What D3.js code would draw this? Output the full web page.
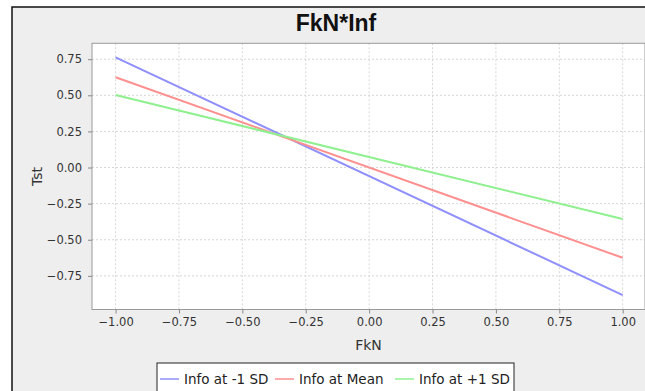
<!DOCTYPE html>
<html>
<head>
<meta charset="utf-8">
<script src="https://cdn.jsdelivr.net/npm/d3@7"></script>
<style>
  body { margin: 0; background: #fff; }
  svg { display: block; }
</style>
</head>
<body>
<div id="chart"></div>
<script>
// values
var fkn = [-1, 1];
var seriesNames = ["Info at -1 SD", "Info at Mean", "Info at +1 SD"];
var lowSD = [0.763, -0.883];
var mean = [0.625, -0.625];
var highSD = [0.502, -0.357];
var xTicks = [-1, -0.75, -0.5, -0.25, 0, 0.25, 0.5, 0.75, 1];
var yTicks = [-0.75, -0.5, -0.25, 0, 0.25, 0.5, 0.75];

var width = 645, height = 391;
var colors = ["#8f8fff", "#ff8f8f", "#8ff08f"];

var svg = d3.select("#chart").append("svg")
    .attr("width", width)
    .attr("height", height);

// outer chart panel (cropped on the right and bottom)
svg.append("rect")
    .attr("x", 12).attr("y", 7)
    .attr("width", 700).attr("height", 420)
    .attr("fill", "#eeeeee")
    .attr("stroke", "#111")
    .attr("stroke-width", 1.5);

svg.append("text")
    .attr("x", 336).attr("y", 31)
    .attr("text-anchor", "middle")
    .style("font-family", "'Liberation Sans', Arial, sans-serif")
    .style("font-weight", "bold")
    .style("font-size", "23px")
    .attr("fill", "#111")
    .text("FkN*Inf");

var plot = {left: 92, right: 645, top: 43.3, bottom: 309.5};

var x = d3.scaleLinear().domain([-1.093, 1.088]).range([plot.left, plot.right]);
var y = d3.scaleLinear().domain([-0.983, 0.86]).range([plot.bottom, plot.top]);

svg.append("rect")
    .attr("x", plot.left).attr("y", plot.top)
    .attr("width", plot.right - plot.left)
    .attr("height", plot.bottom - plot.top)
    .attr("fill", "#fff");

// grid
svg.append("g").selectAll("line")
    .data(xTicks).enter().append("line")
    .attr("x1", function (d) { return x(d); })
    .attr("x2", function (d) { return x(d); })
    .attr("y1", plot.top).attr("y2", plot.bottom)
    .attr("stroke", "#d6d6d6")
    .attr("stroke-dasharray", "2,2");

svg.append("g").selectAll("line")
    .data(yTicks).enter().append("line")
    .attr("y1", function (d) { return y(d); })
    .attr("y2", function (d) { return y(d); })
    .attr("x1", plot.left).attr("x2", plot.right)
    .attr("stroke", "#d6d6d6")
    .attr("stroke-dasharray", "2,2");

svg.append("rect")
    .attr("x", plot.left).attr("y", plot.top)
    .attr("width", plot.right - plot.left)
    .attr("height", plot.bottom - plot.top)
    .attr("fill", "none")
    .attr("stroke", "#9a9a9a");

// axes
var xAxis = svg.append("g")
    .attr("transform", "translate(0," + plot.bottom + ")")
    .call(d3.axisBottom(x).tickValues(xTicks).tickFormat(d3.format(".2f"))
        .tickSizeInner(4).tickSizeOuter(0).tickPadding(4));

var yAxis = svg.append("g")
    .attr("transform", "translate(" + plot.left + ",0)")
    .call(d3.axisLeft(y).tickValues(yTicks).tickFormat(d3.format(".2f"))
        .tickSizeInner(4).tickSizeOuter(0).tickPadding(6));

[xAxis, yAxis].forEach(function (g) {
    g.select(".domain").remove();
    g.selectAll(".tick line").attr("stroke", "#888");
    g.selectAll(".tick text")
        .attr("fill", "#333")
        .style("font-family", "'DejaVu Sans', sans-serif")
        .style("font-size", "11.5px");
});

svg.append("text")
    .attr("x", (plot.left + plot.right) / 2).attr("y", 350)
    .attr("text-anchor", "middle")
    .style("font-family", "'DejaVu Sans', sans-serif")
    .style("font-size", "14px")
    .attr("fill", "#333")
    .text("FkN");

svg.append("text")
    .attr("transform", "translate(42," + ((plot.top + plot.bottom) / 2) + ") rotate(-90)")
    .attr("text-anchor", "middle")
    .style("font-family", "'DejaVu Sans', sans-serif")
    .style("font-size", "14px")
    .attr("fill", "#333")
    .text("Tst");

// lines
var series = [lowSD, mean, highSD];
var line = d3.line()
    .x(function (d, i) { return x(fkn[i]); })
    .y(function (d) { return y(d); });

svg.append("g").selectAll("path")
    .data(series).enter().append("path")
    .attr("d", line)
    .attr("fill", "none")
    .attr("stroke", function (d, i) { return colors[i]; })
    .attr("stroke-width", 2);

// legend
var legend = svg.append("g");
legend.append("rect")
    .attr("x", 157).attr("y", 363)
    .attr("width", 357).attr("height", 40)
    .attr("fill", "#fff")
    .attr("stroke", "#222");

var legendX = [160, 275, 395];
var item = legend.selectAll("g.item")
    .data(seriesNames).enter().append("g")
    .attr("class", "item")
    .attr("transform", function (d, i) { return "translate(" + legendX[i] + ",379)"; });

item.append("line")
    .attr("x1", 0).attr("x2", 19)
    .attr("stroke", function (d, i) { return colors[i]; })
    .attr("stroke-width", 1.5);

item.append("text")
    .attr("x", 24).attr("y", 5)
    .style("font-family", "'DejaVu Sans', sans-serif")
    .style("font-size", "13.5px")
    .attr("fill", "#222")
    .text(function (d) { return d; });
</script>
</body>
</html>
